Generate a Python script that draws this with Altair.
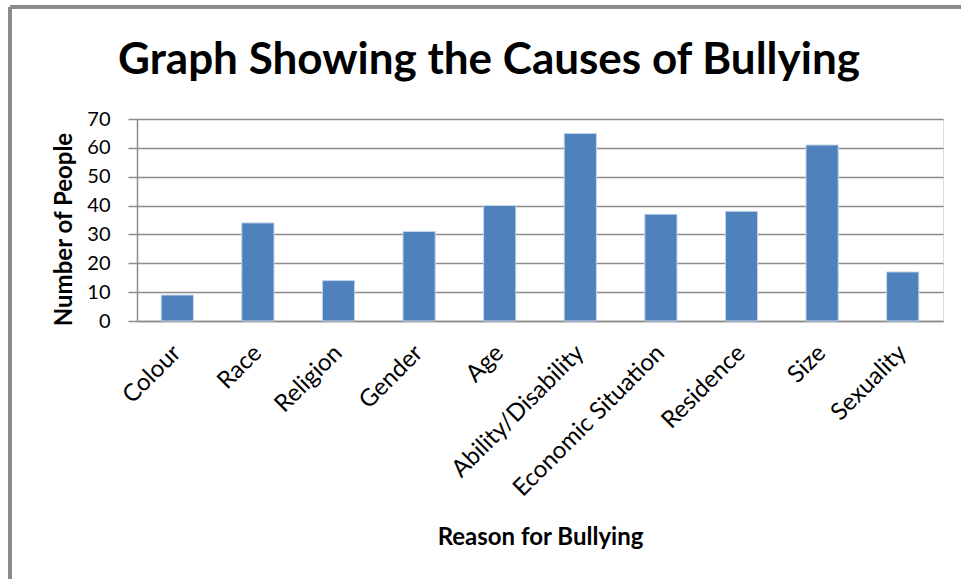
import altair as alt
import pandas as pd

reasons = ["Colour", "Race", "Religion", "Gender", "Age", "Ability/Disability",
           "Economic Situation", "Residence", "Size", "Sexuality"]
people = [9, 34, 14, 31, 40, 65, 37, 38, 61, 17]

df = pd.DataFrame({"reason": reasons, "people": people})

FONT = "Lato"
W, H = 806, 202

bars = alt.Chart(df).mark_bar(color="#4F81BD", stroke="#C6D6EA", strokeWidth=1).encode(
    x=alt.X("reason:N", sort=reasons, scale=alt.Scale(paddingInner=0.6, paddingOuter=0.3),
            axis=alt.Axis(title="Reason for Bullying", labelAngle=-45, labelAlign="right",
                          labelBaseline="middle", labelPadding=28, ticks=False, labelLimit=400,
                          labelFontSize=24, labelFont=FONT, labelColor="#000",
                          titleFont=FONT, titleFontSize=24, titleFontWeight="bold",
                          titleColor="#000", titlePadding=25,
                          domainColor="#8c8c8c", domainWidth=1.5, grid=False)),
    y=alt.Y("people:Q", scale=alt.Scale(domain=[0, 70], nice=False),
            axis=alt.Axis(title="Number of People", values=list(range(0, 71, 10)),
                          tickSize=9, tickColor="#8c8c8c", tickWidth=1.5,
                          labelFontSize=20, labelFont=FONT, labelColor="#000", labelPadding=18,
                          titleFont=FONT, titleFontSize=24, titleFontWeight="bold",
                          titleColor="#000", titlePadding=10, titleY=H / 2 + 9,
                          gridColor="#8c8c8c", gridWidth=1.5,
                          domainColor="#8c8c8c", domainWidth=1.5)),
)

frame = alt.Chart(df).mark_rule(color="#8c8c8c", strokeWidth=3).encode(
    x=alt.value(-127), x2=alt.value(830), y=alt.value(-112), y2=alt.value(-112)
)
frame2 = alt.Chart(df).mark_rule(color="#8c8c8c", strokeWidth=3).encode(
    x=alt.value(-127), x2=alt.value(-127), y=alt.value(-112), y2=alt.value(470)
)

chart = alt.layer(frame, frame2, bars).properties(
    width=W, height=H,
    padding={"left": 137, "top": 119, "right": 18, "bottom": 258},
    autosize=alt.AutoSizeParams(type="none"),
    title=alt.TitleParams("Graph Showing the Causes of Bullying", font=FONT, fontSize=44,
                          fontWeight="bold", color="#000", anchor="middle", dx=-51,
                          baseline="alphabetic", offset=0, dy=112),
).configure_view(stroke=None).configure(background="white")

chart.save("out.html", embed_options={"renderer": "svg", "actions": False})
